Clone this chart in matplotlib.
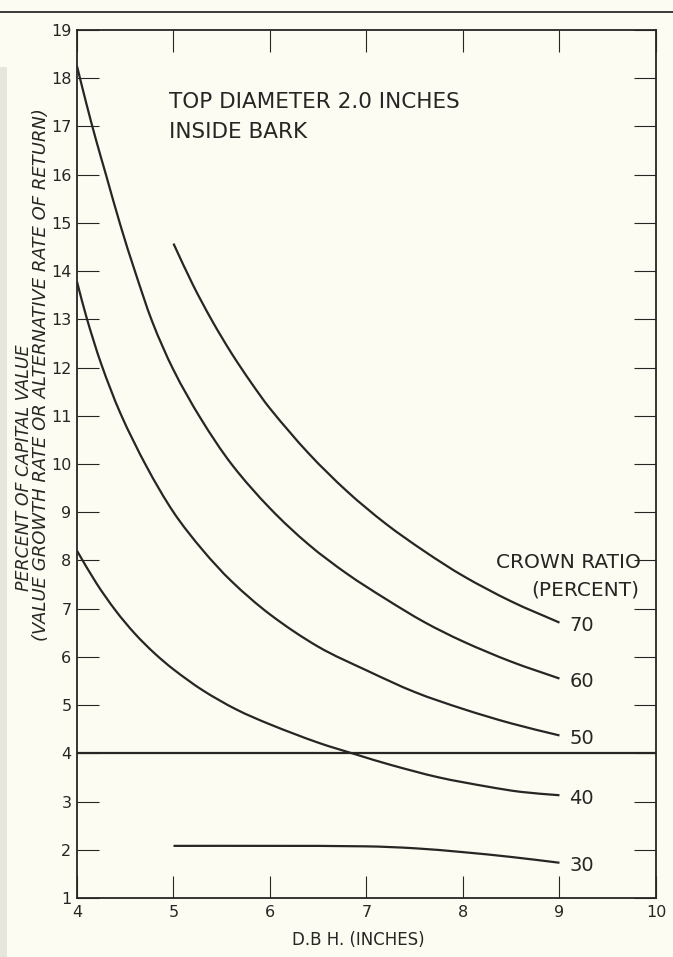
import numpy as np
import matplotlib
matplotlib.use("Agg")
import matplotlib.pyplot as plt
from matplotlib.lines import Line2D
from matplotlib.patches import Rectangle, PathPatch
from matplotlib.path import Path

# Crown ratio curves: D.B.H. (inches) vs percent of capital value
x70 = [5.0, 5.2, 5.4, 5.6, 5.8, 6.0, 6.4, 6.8, 7.2, 7.6, 8.0, 8.5, 9.0]
y70 = [14.57, 13.72, 12.97, 12.3, 11.7, 11.15, 10.22, 9.43, 8.76, 8.19, 7.68, 7.15, 6.71]

x60 = [4.0, 4.1, 4.2, 4.3, 4.45, 4.6, 4.78, 5.0, 5.28, 5.6, 6.0, 6.4, 6.8, 7.2, 7.6, 8.0, 8.5, 9.0]
y60 = [18.25, 17.45, 16.7, 16.0, 14.95, 14.0, 12.95, 11.95, 10.95, 10.0, 9.08, 8.33, 7.72,
       7.2, 6.72, 6.32, 5.9, 5.55]

x50 = [4.0, 4.1, 4.25, 4.45, 4.72, 5.0, 5.3, 5.6, 6.0, 6.5, 7.0, 7.5, 8.0, 8.5, 9.0]
y50 = [13.78, 13.03, 12.08, 11.05, 9.95, 9.0, 8.22, 7.57, 6.88, 6.21, 5.72, 5.27, 4.92, 4.62, 4.37]

x40 = [4.0, 4.2, 4.4, 4.6, 4.8, 5.0, 5.3, 5.65, 6.0, 6.5, 6.9, 7.25, 7.75, 8.25, 8.6, 9.0]
y40 = [8.2, 7.53, 6.96, 6.48, 6.08, 5.74, 5.31, 4.91, 4.6, 4.22, 3.97, 3.76, 3.5, 3.31, 3.2, 3.13]

x30 = [5.0, 6.0, 7.0, 7.5, 8.0, 8.5, 9.0]
y30 = [2.08, 2.08, 2.07, 2.03, 1.95, 1.85, 1.73]

curve_labels = ["70", "60", "50", "40", "30"]
alt_rate = 4.0

xticks = [4, 5, 6, 7, 8, 9, 10]
yticks = list(range(1, 20))

ink = "#262624"
paper = "#fcfcf2"


def smooth_path(xs, ys):
    # cubic Hermite through the read points, drawn as Bezier segments
    x = np.asarray(xs, float)
    y = np.asarray(ys, float)
    n = len(x)
    m = np.empty(n)
    m[0] = (y[1] - y[0]) / (x[1] - x[0])
    m[-1] = (y[-1] - y[-2]) / (x[-1] - x[-2])
    m[1:-1] = (y[2:] - y[:-2]) / (x[2:] - x[:-2])
    verts = [(x[0], y[0])]
    codes = [Path.MOVETO]
    for i in range(n - 1):
        h = x[i + 1] - x[i]
        verts += [(x[i] + h / 3, y[i] + m[i] * h / 3),
                  (x[i + 1] - h / 3, y[i + 1] - m[i + 1] * h / 3),
                  (x[i + 1], y[i + 1])]
        codes += [Path.CURVE4] * 3
    return Path(verts, codes)


plt.rcParams["font.family"] = ["DejaVu Sans"]

fig = plt.figure(figsize=(6.73, 9.57), dpi=100, facecolor=paper)
ax = fig.add_axes([0.1144, 0.0617, 0.8603, 0.907])
ax.set_facecolor(paper)

# scan artefacts: top rule and faint strip on the left edge
fig.add_artist(Line2D([0, 1], [1 - 12 / 957, 1 - 12 / 957], transform=fig.transFigure,
                      color="#3a3a38", lw=1.4))
fig.add_artist(Rectangle((0, 0), 7 / 673, 0.93, transform=fig.transFigure,
                         color="#e6e6dc", lw=0))

for xs, ys in [(x70, y70), (x60, y60), (x50, y50), (x40, y40), (x30, y30)]:
    ax.add_patch(PathPatch(smooth_path(xs, ys), facecolor="none", edgecolor=ink,
                           lw=1.6, capstyle="butt"))

ax.axhline(alt_rate, color=ink, lw=1.6)

ends = [(x70[-1], y70[-1]), (x60[-1], y60[-1]), (x50[-1], y50[-1]),
        (x40[-1], y40[-1]), (x30[-1], y30[-1])]
for lab, (xe, ye) in zip(curve_labels, ends):
    ax.text(xe + 0.1, ye - 0.06, lab, fontsize=14, color=ink, ha="left", va="center")

ax.text(9.84, 7.96, "CROWN RATIO", fontsize=14.5, color=ink, ha="right", va="center")
ax.text(9.83, 7.38, "(PERCENT)", fontsize=14.5, color=ink, ha="right", va="center")

ax.text(4.95, 17.5, "TOP DIAMETER 2.0 INCHES", fontsize=15.5, color=ink, ha="left", va="center")
ax.text(4.95, 16.88, "INSIDE BARK", fontsize=15.5, color=ink, ha="left", va="center")

ax.set_xlim(4, 10)
ax.set_ylim(1, 19)
ax.set_xticks(xticks)
ax.set_yticks(yticks)
ax.tick_params(direction="in", length=16, width=0.8, color=ink, labelcolor=ink,
               top=True, right=True, labelsize=11.5)
ax.tick_params(axis="y", pad=4)
ax.tick_params(axis="x", pad=5)
for sp in ax.spines.values():
    sp.set_linewidth(1.3)
    sp.set_color(ink)

ax.set_xlabel("D.B H. (INCHES)", fontsize=12, color=ink, labelpad=6)
ax.xaxis.set_label_coords((358 - 77) / 579, -0.038)

fig.text(24 / 673, 1 - 468 / 957, "PERCENT OF CAPITAL VALUE", rotation=90,
         fontsize=12.5, style="italic", color=ink, ha="center", va="center")
fig.text(41 / 673, 1 - 375 / 957, "(VALUE GROWTH RATE OR ALTERNATIVE RATE OF RETURN)",
         rotation=90, fontsize=13, style="italic", color=ink, ha="center", va="center")

fig.savefig("out.png", dpi=100, facecolor=paper)
